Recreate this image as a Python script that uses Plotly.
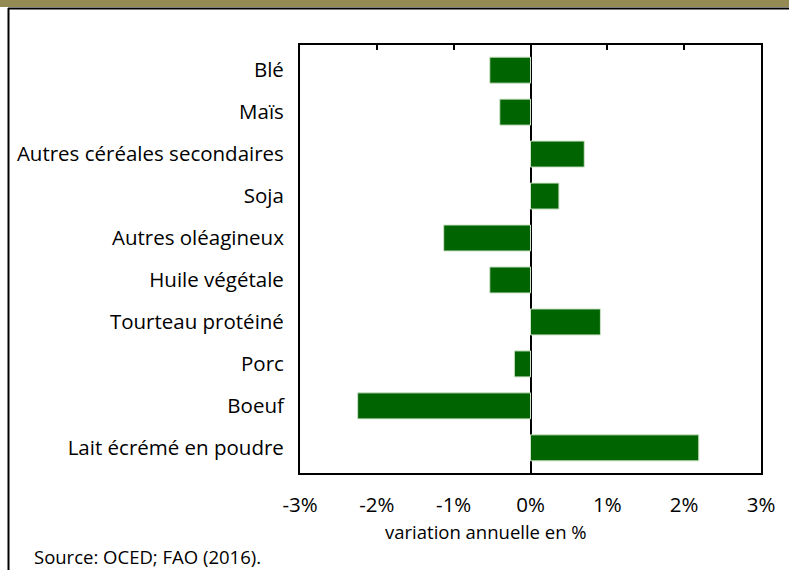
import plotly.graph_objects as go

categories = ["Blé", "Maïs", "Autres céréales secondaires", "Soja", "Autres oléagineux",
              "Huile végétale", "Tourteau protéiné", "Porc", "Boeuf", "Lait écrémé en poudre"]
values = [-0.53, -0.40, 0.70, 0.37, -1.13, -0.53, 0.91, -0.21, -2.25, 2.19]
tick_vals = [-3, -2, -1, 0, 1, 2, 3]
tick_text = ["-3%", "-2%", "-1%", "0%", "1%", "2%", "3%"]

FONT = "Open Sans"
W, H = 789, 570
L, R, T, B = 300, 28, 45, 97
pw, ph = W - L - R, H - T - B

def px_x(x):
    return (x - L) / pw

def px_y(y):
    return (H - B - y) / ph

fig = go.Figure()
fig.add_trace(go.Bar(
    x=values, y=categories, orientation="h",
    marker=dict(color="#006400", line=dict(color="#cfe3c8", width=1)),
    width=0.62, hoverinfo="x+y", showlegend=False,
))
# invisible trace to anchor the top tick axis
fig.add_trace(go.Scatter(x=values, y=categories, xaxis="x2", mode="markers",
                         marker=dict(opacity=0), hoverinfo="skip", showlegend=False))

fig.update_layout(
    width=W, height=H,
    margin=dict(l=L, r=R, t=T, b=B),
    paper_bgcolor="white", plot_bgcolor="white",
    font=dict(family=FONT, size=18, color="#000000"),
    xaxis=dict(range=[-3, 3], tickvals=tick_vals, ticktext=tick_text,
               showgrid=False, zeroline=True, zerolinecolor="black", zerolinewidth=2,
               showline=True, linecolor="black", linewidth=2, mirror=True,
               ticks="", ticklabelstandoff=12, automargin=False,
               tickfont=dict(size=20.5, family=FONT), fixedrange=True),
    xaxis2=dict(range=[-3, 3], tickvals=tick_vals, overlaying="x", side="top",
                anchor="y", ticks="inside", ticklen=5, tickwidth=1.5, tickcolor="black",
                showticklabels=False, showgrid=False, zeroline=False, showline=False,
                automargin=False, fixedrange=True),
    yaxis=dict(autorange="reversed", showgrid=False, ticks="", ticklabelstandoff=10,
               showline=True, linecolor="black", linewidth=2, mirror=True, automargin=False,
               tickfont=dict(size=20.5, family=FONT), fixedrange=True),
    bargap=0.38,
)

# top olive band and outer frame
fig.add_shape(type="rect", xref="paper", yref="paper",
              x0=px_x(-5), x1=px_x(W + 5), y0=px_y(7), y1=px_y(-5),
              fillcolor="#948A54", line=dict(width=0), layer="below")
fig.add_shape(type="line", xref="paper", yref="paper",
              x0=px_x(8), x1=px_x(W + 5), y0=px_y(8.5), y1=px_y(8.5),
              line=dict(color="black", width=2))
fig.add_shape(type="line", xref="paper", yref="paper",
              x0=px_x(8.5), x1=px_x(8.5), y0=px_y(8), y1=px_y(H + 5),
              line=dict(color="black", width=2))

fig.add_annotation(text="variation annuelle en %", xref="paper", yref="paper",
                   x=px_x(486), y=px_y(531), showarrow=False,
                   font=dict(size=18.5, family=FONT), xanchor="center", yanchor="middle")
fig.add_annotation(text="Source: OCED; FAO (2016).", xref="paper", yref="paper",
                   x=px_x(32), y=px_y(556), showarrow=False,
                   font=dict(size=18.5, family=FONT), xanchor="left", yanchor="middle")

fig.write_html("out.html", config={"displayModeBar": False},
               post_script="document.body.style.margin='0';")
